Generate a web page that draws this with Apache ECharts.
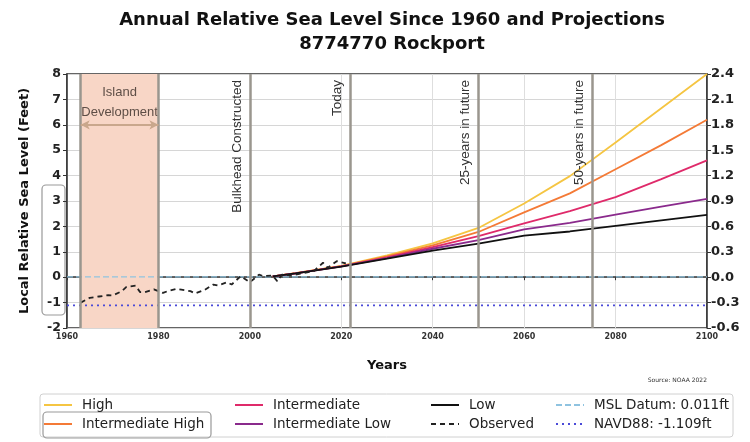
<!DOCTYPE html>
<html>
<head>
<meta charset="utf-8">
<script src="https://cdn.jsdelivr.net/npm/echarts@6/dist/echarts.min.js"></script>
<style>
html,body{margin:0;padding:0;background:#fff;}
#main{width:750px;height:442px;}
</style>
</head>
<body>
<div id="main"></div>
<script>
// observed annual relative sea level (ft)
var obsYears = [1963,1965,1967,1969,1970,1972,1973,1975,1976,1977,1979,1981,1982,1984,1985,1987,1988,1990,1992,1993,1995,1996,1998,2000,2002,2003,2005,2006,2007,2009,2012,2014,2016,2017,2019,2021];
var obsValues = [-1.0,-0.81,-0.76,-0.71,-0.72,-0.55,-0.38,-0.33,-0.59,-0.59,-0.48,-0.62,-0.55,-0.46,-0.49,-0.55,-0.64,-0.51,-0.29,-0.33,-0.2,-0.29,0.04,-0.2,0.1,0.04,0.07,-0.16,0.1,0.07,0.17,0.24,0.57,0.37,0.63,0.54];

// projections (ft)
var projYears = [2005,2010,2020,2030,2040,2050,2060,2070,2080,2090,2100];
var high = [0.03,0.16,0.45,0.86,1.33,1.94,2.9,3.98,5.3,6.65,8.0];
var intHigh = [0.03,0.16,0.44,0.82,1.25,1.78,2.55,3.3,4.25,5.2,6.2];
var intermediate = [0.03,0.15,0.43,0.78,1.18,1.62,2.12,2.6,3.15,3.86,4.6];
var intLow = [0.03,0.15,0.43,0.75,1.12,1.46,1.88,2.14,2.46,2.78,3.08];
var low = [0.03,0.15,0.42,0.73,1.05,1.32,1.64,1.8,2.02,2.24,2.45];

var mslDatum = 0.011;
var navd88 = -1.109;

// annotations
var devStart = 1963, devEnd = 1980, arrowLevel = 6;
var eventYears = [2000, 2022, 2050, 2075];
var eventLabels = ['Bulkhead Constructed', 'Today', '25-years in future', '50-years in future'];

var xTicks = [1960, 2100, 20];
var yTicks = [-2, 8, 1];
var yTicksM = [-0.6, 2.4, 0.3];

function pairs(xs, ys){ return xs.map(function(x,i){ return [x, ys[i]]; }); }

var myChart = echarts.init(document.getElementById('main'));

var vLines = [{xAxis: devStart, label:{show:false}}, {xAxis: devEnd, label:{show:false}}];
eventYears.forEach(function(y, i){
    vLines.push({xAxis: y, label:{show:true, formatter: eventLabels[i]}});
});

function projSeries(name, data, color){
    return {
        name: name, type: 'line', data: pairs(projYears, data),
        symbol: 'none', lineStyle: {color: color, width: 1.8}, itemStyle: {color: color}, z: 3
    };
}

var legendText = {fontFamily: 'DejaVu Sans', fontSize: 13.5, color: '#222', padding: [0,0,0,5]};
function legendCol(left, names){
    return {left: left, top: 398, orient: 'vertical', padding: 0, itemGap: 5,
        itemWidth: 28, itemHeight: 14, itemStyle: {opacity: 0}, lineStyle: {width: 2},
        textStyle: legendText, data: names};
}

var option = {
    animation: false,
    title: {
        text: 'Annual Relative Sea Level Since 1960 and Projections\n8774770 Rockport',
        left: 387, top: 3, textAlign: 'center',
        textStyle: {fontFamily: 'DejaVu Sans', fontSize: 18, fontWeight: 'bold', color: '#111', lineHeight: 24}
    },
    grid: {left: 67, right: 43, top: 74, bottom: 114, show: true, borderColor: '#333', borderWidth: 1.5},
    legend: [
        legendCol(43, ['High', 'Intermediate High']),
        legendCol(234, ['Intermediate', 'Intermediate Low']),
        legendCol(430, ['Low', 'Observed']),
        legendCol(555, ['MSL Datum: 0.011ft', 'NAVD88: -1.109ft'])
    ],
    xAxis: {
        type: 'value', min: xTicks[0], max: xTicks[1], interval: xTicks[2],
        name: 'Years', nameLocation: 'middle', nameGap: 31,
        nameTextStyle: {fontFamily: 'DejaVu Sans', fontSize: 13, fontWeight: 'bold', color: '#111'},
        axisLine: {lineStyle: {color: '#333', width: 1.5}},
        axisTick: {show: true, length: 3, lineStyle: {color: '#333'}},
        axisLabel: {fontFamily: 'DejaVu Sans', fontSize: 8, fontWeight: 'bold', color: '#333', margin: 5,
            formatter: function(v){ return String(v); }},
        splitLine: {show: true, lineStyle: {color: '#dedede', width: 1}}
    },
    yAxis: [{
        type: 'value', min: yTicks[0], max: yTicks[1], interval: yTicks[2],
        name: 'Local Relative Sea Level (Feet)', nameLocation: 'middle', nameGap: 36,
        nameTextStyle: {fontFamily: 'DejaVu Sans', fontSize: 13, fontWeight: 'bold', color: '#111'},
        axisLine: {show: true, lineStyle: {color: '#333', width: 1.5}},
        axisTick: {show: true, length: 4, lineStyle: {color: '#333'}},
        axisLabel: {fontFamily: 'DejaVu Sans', fontSize: 12.5, fontWeight: 'bold', color: '#222', margin: 6},
        splitLine: {show: true, lineStyle: {color: '#d6d6d6', width: 1.2}}
    }, {
        type: 'value', position: 'right', min: yTicksM[0], max: yTicksM[1], interval: yTicksM[2],
        axisLine: {show: true, lineStyle: {color: '#333', width: 1.5}},
        axisTick: {show: true, length: 4, lineStyle: {color: '#333'}},
        axisLabel: {fontFamily: 'DejaVu Sans', fontSize: 13, fontWeight: 'bold', color: '#222', margin: 4,
            formatter: function(v){ return v.toFixed(1); }},
        splitLine: {show: false}
    }],
    series: [
        projSeries('High', high, '#f5c542'),
        projSeries('Intermediate High', intHigh, '#f47a36'),
        projSeries('Intermediate', intermediate, '#df2a6a'),
        projSeries('Intermediate Low', intLow, '#8a2a8c'),
        projSeries('Low', low, '#111111'),
        {
            name: 'Observed', type: 'line', data: pairs(obsYears, obsValues), symbol: 'none', z: 4,
            lineStyle: {color: '#222', width: 1.8, type: [5, 4]}, itemStyle: {color: '#222'},
            markArea: {
                silent: true,
                itemStyle: {color: '#f8d6c6'},
                label: {show: true, position: 'insideTop', distance: 8, formatter: 'Island\nDevelopment',
                    fontFamily: 'Liberation Sans', fontSize: 13, color: '#5e4e46', lineHeight: 20},
                data: [[{xAxis: devStart, yAxis: yTicks[1]}, {xAxis: devEnd, yAxis: yTicks[0]}]]
            },
            markLine: {
                silent: true, symbol: 'none', animation: false,
                lineStyle: {color: '#9a968e', width: 2.5, type: 'solid'},
                label: {position: 'insideEndTop', distance: 6, fontFamily: 'Liberation Sans', fontSize: 13.5, color: '#333'},
                data: vLines
            }
        },
        {
            name: 'arrow', type: 'line', data: [], z: 5,
            markLine: {
                silent: true, symbol: ['arrow', 'arrow'], symbolSize: [7, 9],
                lineStyle: {color: '#c9a78c', width: 2, type: 'solid'},
                label: {show: false},
                data: [[{coord: [devStart, arrowLevel]}, {coord: [devEnd, arrowLevel]}]]
            }
        },
        {
            name: 'MSL Datum: 0.011ft', type: 'line', data: pairs([xTicks[0], xTicks[1]], [mslDatum, mslDatum]),
            symbol: 'none', z: 2, lineStyle: {color: '#8fc3e0', width: 1.2, type: [6, 3]}, itemStyle: {color: '#5ab0e0'}
        },
        {
            name: 'NAVD88: -1.109ft', type: 'line', data: pairs([xTicks[0], xTicks[1]], [navd88, navd88]),
            symbol: 'none', z: 2, lineStyle: {color: '#4a4ad8', width: 1.8, type: [2, 4]}, itemStyle: {color: '#4a4ad8'}
        }
    ],
    graphic: [
        {type: 'rect', shape: {x: 40, y: 394, width: 693, height: 43, r: 3}, style: {fill: 'none', stroke: '#d0d0d0', lineWidth: 1}},
        {type: 'rect', shape: {x: 43, y: 412, width: 168, height: 26, r: 4}, style: {fill: 'none', stroke: '#999', lineWidth: 1.2}},
        {type: 'rect', shape: {x: 42, y: 185, width: 23, height: 130, r: 4}, style: {fill: 'none', stroke: '#999', lineWidth: 1.2}},
        {type: 'text', right: 43, top: 377, style: {text: 'Source: NOAA 2022', fontFamily: 'DejaVu Sans', fontSize: 6, fill: '#333'}}
    ]
};

myChart.setOption(option);
</script>
</body>
</html>
